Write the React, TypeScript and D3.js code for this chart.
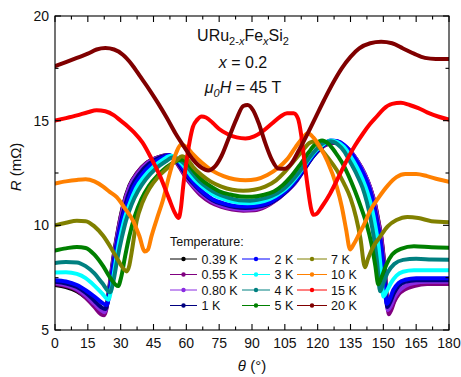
import React from "react";
import * as d3 from "d3";

const temperatures = ["0.39 K", "0.55 K", "0.80 K", "1 K", "2 K", "3 K", "4 K", "5 K", "7 K", "10 K", "15 K", "20 K"];
const colors = ["#000000", "#800080", "#8a2be2", "#000080", "#0000ff", "#00ffff", "#008080", "#008000", "#808000", "#ff8000", "#ff0000", "#800000"];

const xTicks = [0, 15, 30, 45, 60, 75, 90, 105, 120, 135, 150, 165, 180];
const yTicks = [5, 10, 15, 20];

type P = [number, number];

const r039: P[] = [[0,7.15],[5,7.05],[10,6.85],[14,6.55],[18,6.15],[21,5.85],[22.5,5.8],[23.5,6.1],[25,7.2],[27,8.7],[29,9.9],[31,10.9],[34,11.9],[37.5,12.5],[42,13.0],[47,13.25],[51,13.35],[54,13.2],[57,12.8],[60,12.3],[63,11.9],[67,11.45],[71,11.15],[76,10.95],[81,10.82],[86,10.78],[91,10.8],[96,10.95],[101,11.25],[105,11.6],[109,12.0],[113,12.6],[117,13.2],[121,13.65],[125,13.9],[128,13.95],[131,13.85],[134,13.65],[138,13.1],[141.5,12.45],[144,11.8],[146.2,11.0],[147.7,10.2],[149.2,9.3],[150.7,7.8],[151.7,6.4],[152.4,5.9],[153.5,6.05],[155,6.4],[157,6.75],[160,7.0],[164,7.15],[170,7.25],[180,7.25]];
const r055: P[] = [[0,7.2],[5,7.1],[10,6.9],[14,6.55],[18,6.1],[21,5.75],[22.5,5.7],[23.5,6.0],[25,7.1],[27,8.6],[29,9.85],[31,10.85],[34,11.85],[37.5,12.5],[42,13.0],[47,13.25],[51,13.35],[54,13.2],[57,12.75],[60,12.25],[63,11.85],[67,11.4],[71,11.1],[76,10.88],[81,10.75],[86,10.7],[91,10.72],[96,10.88],[101,11.2],[105,11.55],[109,11.95],[113,12.55],[117,13.2],[121,13.65],[125,13.9],[128,13.95],[131,13.85],[134,13.65],[138,13.1],[141.5,12.45],[144,11.8],[146.3,11.0],[147.8,10.2],[149.3,9.3],[150.8,7.7],[151.8,6.3],[152.5,5.75],[153.6,5.95],[155,6.35],[157,6.7],[160,6.95],[164,7.1],[170,7.2],[180,7.2]];
const r080: P[] = [[0,7.25],[5,7.15],[10,6.95],[14,6.65],[18,6.25],[21,5.95],[22.7,5.85],[23.8,6.2],[25.3,7.3],[27.3,8.75],[29.3,9.95],[31.3,10.9],[34.3,11.9],[38,12.5],[42.5,13.0],[47.5,13.25],[51.5,13.35],[54.5,13.2],[57.5,12.75],[60.5,12.25],[63.5,11.85],[67.5,11.45],[71.5,11.15],[76.5,10.92],[81.5,10.8],[86.5,10.75],[91.5,10.78],[96.5,10.95],[101.5,11.25],[105.5,11.6],[109.5,12.0],[113.5,12.6],[117.5,13.25],[121.5,13.7],[125.5,13.95],[128.5,14.0],[131.5,13.85],[134.5,13.6],[138,13.1],[141.5,12.45],[144,11.8],[146,11.0],[147.5,10.2],[149,9.3],[150.5,7.8],[151.4,6.5],[152,5.95],[153.2,6.1],[154.8,6.5],[157,6.85],[160,7.1],[164,7.25],[170,7.3],[180,7.3]];
const r1: P[] = [[0,7.3],[5,7.22],[10,7.05],[14,6.78],[18,6.4],[21,6.1],[23,6.0],[24.2,6.4],[25.8,7.5],[27.8,8.9],[29.8,10.0],[32,10.95],[35,11.85],[38.5,12.45],[43,12.95],[48,13.25],[52,13.35],[55,13.15],[58,12.7],[61,12.25],[64,11.9],[68,11.5],[72,11.2],[77,11.0],[82,10.87],[87,10.83],[92,10.87],[97,11.0],[102,11.3],[106,11.65],[110,12.1],[114,12.7],[118,13.3],[122,13.75],[126,14.0],[129,14.0],[132,13.8],[135,13.45],[138.5,12.85],[141.5,12.3],[143.8,11.7],[145.8,10.9],[147.3,10.1],[148.8,9.2],[150.3,7.8],[151.2,6.6],[151.8,6.1],[153,6.3],[154.8,6.75],[157,7.1],[160,7.3],[165,7.38],[172,7.38],[180,7.38]];
const r2: P[] = [[0,7.38],[5,7.32],[10,7.15],[14,6.9],[18,6.6],[21.5,6.3],[23.6,6.2],[25,6.8],[26.5,7.9],[28.5,9.2],[30.5,10.2],[33,11.05],[36,11.85],[39.5,12.4],[44,12.9],[48.5,13.2],[52,13.35],[55,13.2],[58,12.8],[61,12.35],[64,11.95],[68,11.55],[72,11.25],[77,11.05],[82,10.93],[87,10.9],[92,10.93],[97,11.05],[102,11.35],[106,11.7],[110,12.15],[114,12.75],[118,13.35],[122,13.8],[126,14.05],[129,14.02],[132,13.85],[135,13.5],[138.5,12.95],[141,12.45],[143.5,11.8],[145.5,11.0],[147,10.2],[148.5,9.4],[150,7.9],[151,6.6],[151.6,6.25],[152.8,6.45],[154.5,6.9],[157,7.25],[160,7.4],[165,7.47],[172,7.47],[180,7.47]];
const r3: P[] = [[0,7.75],[5,7.76],[10,7.68],[14,7.48],[18,7.12],[21.5,6.75],[24.4,6.45],[25.8,7.0],[27.5,8.1],[29.5,9.3],[31.5,10.2],[34,11.0],[37,11.75],[40.5,12.3],[45,12.8],[49.5,13.15],[53,13.32],[56,13.15],[59,12.8],[62,12.4],[65,12.05],[69,11.7],[73,11.42],[78,11.22],[83,11.1],[88,11.06],[93,11.1],[98,11.25],[103,11.55],[107,11.9],[111,12.4],[115,13.0],[119,13.55],[123,13.9],[126,14.05],[129,13.98],[132,13.75],[135,13.3],[138,12.75],[140.5,12.2],[142.8,11.55],[144.8,10.8],[146.3,10.0],[147.8,9.0],[149.2,7.5],[150,6.6],[151.5,6.85],[153.5,7.25],[156,7.6],[159,7.78],[164,7.85],[172,7.85],[180,7.85]];
const r4: P[] = [[0,8.2],[5,8.25],[10,8.23],[14,8.05],[18,7.7],[21.5,7.25],[25.2,6.8],[26.6,7.3],[28.5,8.4],[30.5,9.4],[32.5,10.25],[35,11.0],[38,11.65],[41.5,12.2],[46,12.7],[50.5,13.05],[54,13.25],[57,13.12],[60,12.85],[63,12.45],[66,12.1],[70,11.77],[74,11.52],[79,11.32],[84,11.2],[89,11.18],[94,11.25],[99,11.4],[104,11.7],[108,12.1],[112,12.6],[116,13.2],[120,13.7],[123,13.95],[126,14.02],[129,13.88],[132,13.55],[135,13.0],[138,12.4],[140.5,11.8],[142.5,11.1],[144.2,10.3],[145.7,9.4],[147.2,8.2],[148.5,6.85],[150,7.25],[152,7.75],[155,8.15],[159,8.35],[165,8.4],[172,8.37],[180,8.35]];
const r5: P[] = [[0,8.8],[5,8.9],[10,8.97],[14,8.92],[18,8.6],[22,8.05],[25.5,7.45],[28.8,7.1],[30.3,7.55],[32,8.5],[34,9.5],[36.5,10.45],[39.5,11.25],[43,11.9],[47,12.4],[51,12.78],[55,13.05],[58,13.15],[61,12.9],[64,12.52],[67,12.18],[71,11.87],[75,11.63],[80,11.47],[85,11.38],[90,11.37],[95,11.45],[100,11.62],[104,11.92],[108,12.35],[112,12.9],[116,13.5],[119,13.88],[122,14.05],[125,13.88],[128,13.5],[131,13.02],[134,12.4],[137,11.65],[140,10.8],[142.5,10.0],[144.5,9.15],[146.3,8.1],[147.7,7.18],[149.3,7.55],[151.5,8.15],[154,8.6],[158,8.88],[164,9.0],[172,8.95],[180,8.93]];
const r7: P[] = [[0,10.0],[5,10.12],[10,10.22],[14,10.2],[18,9.95],[22,9.5],[26,8.85],[29,8.3],[31.5,7.9],[32.8,7.8],[34,8.1],[35,8.7],[37.3,10.2],[40,11.1],[43.4,11.8],[47,12.3],[51,12.7],[55.5,13.1],[58,13.3],[60.5,13.15],[63,12.8],[67,12.4],[71,12.1],[76,11.85],[81,11.7],[86,11.65],[91,11.7],[96,11.85],[101,12.15],[105,12.55],[109,13.05],[113,13.55],[116.5,13.95],[118.5,14.0],[121,13.7],[124.5,13.25],[128.7,12.64],[132,12.0],[135,11.3],[137.5,10.4],[139.5,9.4],[141.6,8.0],[143,8.4],[145,8.9],[148.5,9.45],[152,9.95],[156,10.25],[161,10.4],[166,10.35],[172,10.2],[180,10.15]];
const r10: P[] = [[0,12.0],[5,12.1],[10,12.17],[14,12.2],[18,12.1],[22,11.85],[25,11.6],[28.2,11.35],[32,10.8],[35.5,10.25],[38.5,9.5],[41,8.75],[42.5,8.85],[44,9.45],[46.5,10.3],[49.3,11.2],[52.5,12.5],[55.5,13.5],[57.5,13.85],[60,13.75],[63,13.4],[67,13.0],[72,12.6],[77,12.35],[82,12.2],[87,12.15],[92,12.2],[97,12.4],[102,12.75],[106,13.15],[110,13.75],[113,14.15],[115.5,14.4],[118,14.2],[121,13.75],[124.5,13.05],[128.7,11.85],[131,10.9],[133,9.8],[134.8,8.85],[136.5,9.1],[139,9.6],[141,10.0],[144,10.7],[148,11.35],[152,11.9],[156,12.3],[160,12.45],[165,12.45],[170,12.35],[175,12.2],[180,12.08]];
const r15: P[] = [[0,15.0],[5,15.12],[10,15.25],[15,15.4],[19,15.5],[23,15.45],[27,15.25],[30,15.0],[33,14.75],[36,14.45],[40,13.95],[44,13.2],[48,12.35],[52,11.3],[55,10.55],[56.5,10.35],[57.5,10.8],[58.5,11.8],[60,13.0],[61.5,14.0],[63,14.7],[65,15.05],[67,15.2],[69,15.15],[72,14.9],[75,14.6],[79,14.35],[83,14.2],[87,14.15],[91,14.25],[95,14.5],[99,14.85],[103,15.2],[106,15.35],[109,15.35],[111,15.1],[112.5,14.3],[114,13.0],[115.5,11.8],[117,10.8],[118,10.5],[119.5,10.55],[122,10.9],[125.6,11.5],[129.5,12.3],[133.3,13.1],[137,13.8],[140.8,14.4],[144,14.85],[147,15.2],[150,15.55],[154,15.8],[158,15.85],[162,15.75],[166,15.6],[170,15.4],[175,15.2],[180,15.05]];
const r20: P[] = [[0,17.6],[5,17.8],[10,18.0],[15,18.2],[19,18.4],[23,18.47],[27,18.4],[31,18.15],[35,17.7],[39,17.1],[43,16.5],[47,15.85],[51,15.15],[55,14.4],[59,13.75],[63,13.15],[67,12.75],[70,12.62],[73,12.8],[76,13.3],[79.5,14.2],[83,15.1],[86,15.7],[88,15.75],[90.5,15.5],[93,14.9],[96,13.95],[99,13.15],[102,12.72],[105,12.7],[108,12.95],[111,13.5],[115,14.3],[119,15.15],[123,16.0],[127,16.8],[131,17.5],[135,18.05],[139,18.45],[144,18.7],[149,18.77],[154,18.7],[159,18.45],[164,18.2],[169,18.0],[174,17.95],[180,17.95]];

const seriesData: P[][] = [r039, r055, r080, r1, r2, r3, r4, r5, r7, r10, r15, r20];

const W = 461, H = 377;
const L = 55, R = 449, T = 16, B = 330;
const FONT = "'Liberation Sans', Arial, Helvetica, sans-serif";

export default function App() {
  const x = d3.scaleLinear().domain([0, 180]).range([L, R]);
  const y = d3.scaleLinear().domain([5, 20]).range([B, T]);
  const line = d3.line<P>().x(d => x(d[0])).y(d => y(d[1])).curve(d3.curveMonotoneX);

  const xMinor = d3.range(7.5, 180, 15);
  const yMinor = [7.5, 12.5, 17.5];

  const legendRows = [259, 274.5, 290, 305.5];
  const legendCols = [
    { l0: 170, l1: 197, tx: 201.5 },
    { l0: 242, l1: 270, tx: 274.5 },
    { l0: 297, l1: 327, tx: 331 },
  ];

  return (
    <svg width={W} height={H} style={{ position: "absolute", left: 0, top: 0, display: "block" }} fontFamily={FONT}>
      <rect x={0} y={0} width={W} height={H} fill="#fff" />
      <defs>
        <clipPath id="plotclip">
          <rect x={L} y={T} width={R - L} height={B - T} />
        </clipPath>
      </defs>
      <g clipPath="url(#plotclip)">
        {seriesData.map((d, i) => (
          <path key={i} d={line(d) || ""} fill="none" stroke={colors[i]} strokeWidth={4} strokeLinejoin="round" strokeLinecap="round" />
        ))}
      </g>
      <rect x={L} y={T} width={R - L} height={B - T} fill="none" stroke="#000" strokeWidth={1.1} />
      {xTicks.map(t => (
        <g key={"xt" + t}>
          <line x1={x(t)} x2={x(t)} y1={B} y2={B - 6} stroke="#000" strokeWidth={1.1} />
          <line x1={x(t)} x2={x(t)} y1={T} y2={T + 6} stroke="#000" strokeWidth={1.1} />
          <text x={x(t)} y={348} fontSize={14} textAnchor="middle" fill="#111">{t}</text>
        </g>
      ))}
      {xMinor.map(t => (
        <g key={"xm" + t}>
          <line x1={x(t)} x2={x(t)} y1={B} y2={B - 3.5} stroke="#000" strokeWidth={1.1} />
          <line x1={x(t)} x2={x(t)} y1={T} y2={T + 3.5} stroke="#000" strokeWidth={1.1} />
        </g>
      ))}
      {yTicks.map(t => (
        <g key={"yt" + t}>
          <line x1={L} x2={L + 6} y1={y(t)} y2={y(t)} stroke="#000" strokeWidth={1.1} />
          <line x1={R} x2={R - 6} y1={y(t)} y2={y(t)} stroke="#000" strokeWidth={1.1} />
          <text x={49} y={y(t)} dy="0.35em" fontSize={14} textAnchor="end" fill="#111">{t}</text>
        </g>
      ))}
      {yMinor.map(t => (
        <g key={"ym" + t}>
          <line x1={L} x2={L + 3.5} y1={y(t)} y2={y(t)} stroke="#000" strokeWidth={1.1} />
          <line x1={R} x2={R - 3.5} y1={y(t)} y2={y(t)} stroke="#000" strokeWidth={1.1} />
        </g>
      ))}
      <text x={252} y={371} fontSize={15} textAnchor="middle" fill="#111">
        <tspan fontStyle="italic">θ</tspan> (°)
      </text>
      <text transform="translate(21,167) rotate(-90)" fontSize={15} textAnchor="middle" fill="#111">
        <tspan fontStyle="italic">R</tspan> (mΩ)
      </text>
      <text x={243} y={41} fontSize={16} textAnchor="middle" fill="#111">
        URu<tspan fontSize={11} dy={4}>2-<tspan fontStyle="italic">x</tspan></tspan><tspan dy={-4}>Fe</tspan><tspan fontSize={11} dy={4} fontStyle="italic">x</tspan><tspan dy={-4}>Si</tspan><tspan fontSize={11} dy={4}>2</tspan>
      </text>
      <text x={243} y={68} fontSize={16} textAnchor="middle" fill="#111">
        <tspan fontStyle="italic">x</tspan> = 0.2
      </text>
      <text x={243} y={93} fontSize={16} textAnchor="middle" fill="#111">
        <tspan fontStyle="italic">μ</tspan><tspan fontSize={11} dy={4} fontStyle="italic">0</tspan><tspan dy={-4} fontStyle="italic">H</tspan> = 45 T
      </text>
      <text x={170} y={246} fontSize={12.5} fill="#111">Temperature:</text>
      {temperatures.map((name, i) => {
        const col = legendCols[Math.floor(i / 4)];
        const ry = legendRows[i % 4];
        return (
          <g key={name}>
            <line x1={col.l0} x2={col.l1} y1={ry} y2={ry} stroke={colors[i]} strokeWidth={1} />
            <circle cx={(col.l0 + col.l1) / 2} cy={ry} r={2.2} fill={colors[i]} />
            <text x={col.tx} y={ry} dy="0.36em" fontSize={12.5} fill="#111">{name}</text>
          </g>
        );
      })}
    </svg>
  );
}
